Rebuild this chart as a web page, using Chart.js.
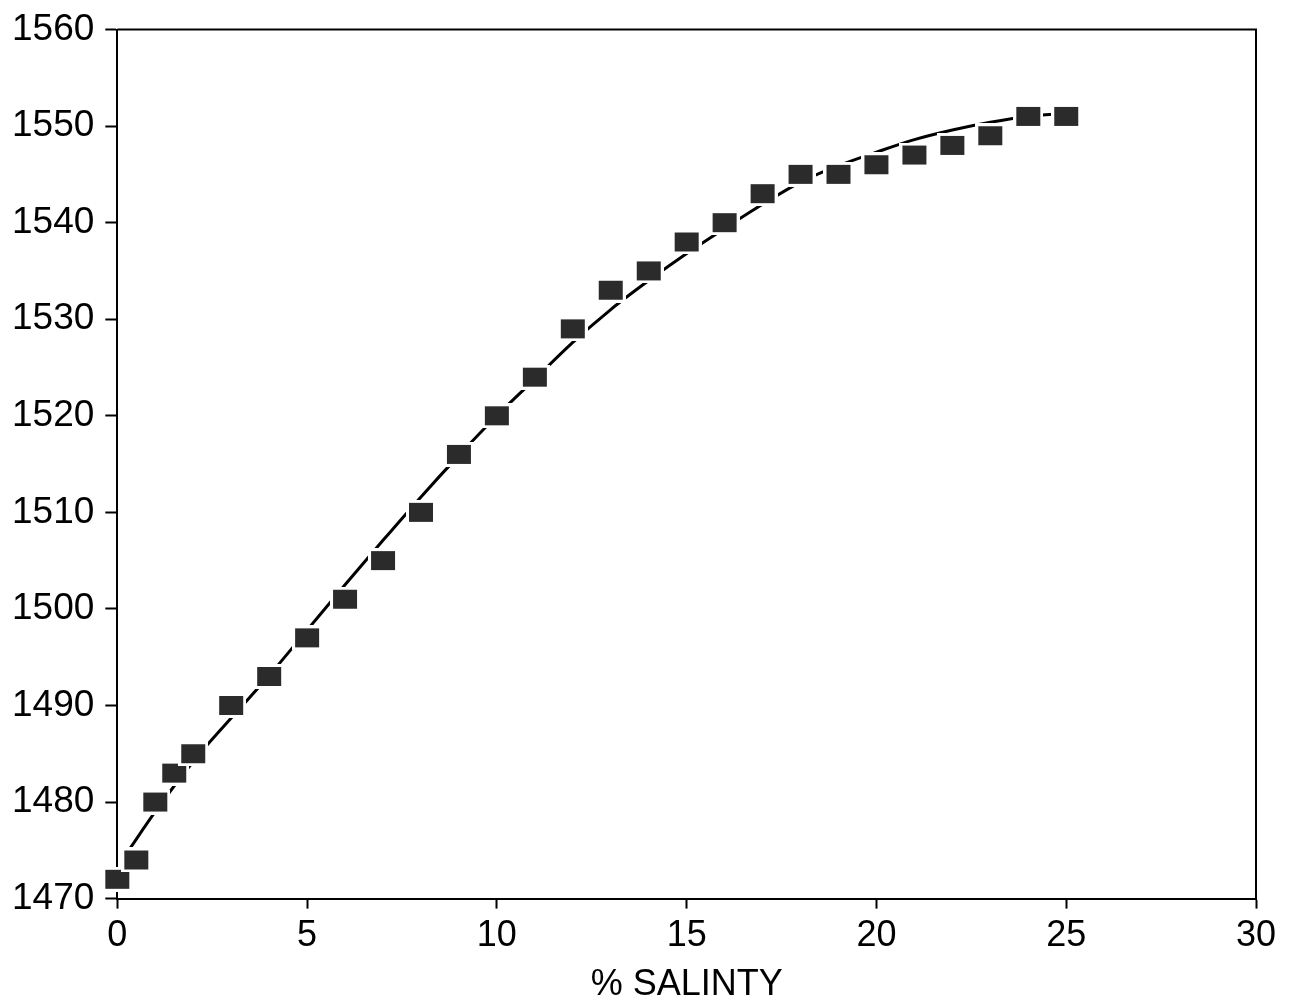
<!DOCTYPE html>
<html>
<head>
<meta charset="utf-8">
<script src="https://cdn.jsdelivr.net/npm/chart.js@4.4.0/dist/chart.umd.min.js"></script>
<style>
  html, body { margin: 0; padding: 0; background: #fff; }
  #wrap { width: 1291px; height: 1001px; }
</style>
</head>
<body>
<div id="wrap"><canvas id="myChart" width="1291" height="1001"></canvas></div>
<script>
// measured points
let salinity = [0, 0.5, 1, 1.5, 2, 3, 4, 5, 6, 7, 8, 9, 10, 11, 12, 13, 14, 15, 16, 17, 18, 19, 20, 21, 22, 23, 24, 25];
let velocity = [1472, 1474, 1480, 1483, 1485, 1490, 1493, 1497, 1501, 1505, 1510, 1516, 1520, 1524, 1529, 1533, 1535, 1538, 1540, 1543, 1545, 1545, 1546, 1547, 1548, 1549, 1551, 1551];

// fitted curve
let fitX = [0.3, 1, 2, 3, 4, 5, 6, 7, 8, 9, 10, 11, 12, 13, 14, 15, 16, 17, 18, 19, 20, 21, 22, 23, 24, 25];
let fitY = [1475, 1479, 1484.2, 1488.7, 1493.1, 1497.8, 1502.5, 1507.1, 1511.6, 1515.9, 1520, 1523.8, 1527.6, 1531, 1534, 1536.8, 1539.4, 1541.9, 1544.2, 1545.9, 1547.3, 1548.6, 1549.6, 1550.4, 1551, 1551.3];

let xTicks = [0, 5, 10, 15, 20, 25, 30];

// square marker with white halo, like the scan
let marker = document.createElement('canvas');
marker.width = 30;
marker.height = 25;
let mctx = marker.getContext('2d');
mctx.fillStyle = '#fff';
mctx.fillRect(0, 0, 30, 25);
mctx.fillStyle = '#2b2b2b';
mctx.fillRect(3, 3, 24, 19);

const boxPlugin = {
    id: 'box',
    afterDraw(chart) {
        const a = chart.chartArea;
        const c = chart.ctx;
        c.save();
        c.strokeStyle = '#000';
        c.lineWidth = 2;
        c.beginPath();
        c.moveTo(a.left, a.top);
        c.lineTo(a.right, a.top);
        c.lineTo(a.right, a.bottom);
        c.stroke();
        c.restore();
    }
};

let yFont = { family: '"Liberation Sans", Arial, sans-serif', size: 37, lineHeight: 1 };
let xFont = { family: '"Liberation Sans", Arial, sans-serif', size: 36 };

let ctx = document.getElementById('myChart').getContext('2d');

let myChart = new Chart(ctx, {
    type: 'scatter',
    data: {
        datasets: [
            {
                label: 'Measured',
                data: salinity.map((x, i) => ({ x: x, y: velocity[i] })),
                pointStyle: marker,
                pointRadius: 12,
                showLine: false,
                clip: false
            },
            {
                type: 'line',
                label: 'Fit',
                data: fitX.map((x, i) => ({ x: x, y: fitY[i] })),
                borderColor: '#000',
                borderWidth: 3,
                pointRadius: 0,
                cubicInterpolationMode: 'monotone',
                fill: false
            }
        ]
    },
    options: {
        responsive: false,
        animation: false,
        devicePixelRatio: 1,
        layout: { padding: { left: 1, right: 35, top: 8, bottom: 0 } },
        plugins: {
            legend: { display: false },
            tooltip: { enabled: false }
        },
        scales: {
            x: {
                type: 'linear',
                min: 0,
                max: 30,
                afterBuildTicks: (axis) => { axis.ticks = xTicks.map(v => ({ value: v })); },
                grid: { drawOnChartArea: false, drawTicks: true, tickLength: 10, color: '#000', tickWidth: 2 },
                border: { display: true, color: '#000', width: 2 },
                ticks: { color: '#000', font: xFont, padding: 6, maxRotation: 0, callback: (v) => String(v) },
                title: { display: true, text: '% SALINTY', color: '#000', font: xFont, padding: { top: 0, bottom: -6 } }
            },
            y: {
                min: 1470,
                max: 1560,
                ticks: { stepSize: 10, color: '#000', font: yFont, padding: 11, callback: (v) => String(v) },
                grid: { drawOnChartArea: false, drawTicks: true, tickLength: 12, color: '#000', tickWidth: 2 },
                border: { display: true, color: '#000', width: 2 }
            }
        }
    },
    plugins: [boxPlugin]
});
</script>
</body>
</html>
